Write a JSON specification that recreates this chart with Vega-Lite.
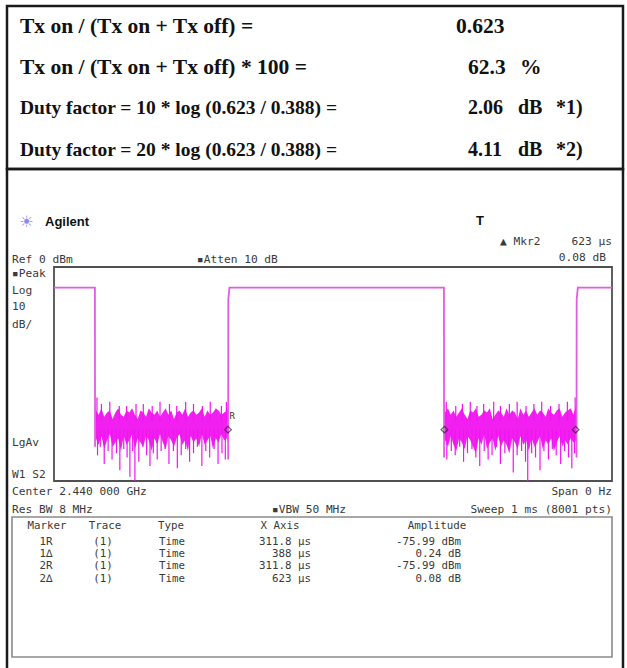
{
  "$schema": "https://vega.github.io/schema/vega-lite/v6.json",
  "width": 627,
  "height": 668,
  "autosize": {"type": "fit", "contains": "padding"},
  "padding": 0,
  "background": "white",
  "config": {"view": {"stroke": null}},
  "encoding": {
    "x": {"field": "t", "type": "quantitative", "scale": {"domain": [-0.09677, 1.02688], "nice": false, "zero": false}, "axis": null},
    "y": {"field": "db", "type": "quantitative", "scale": {"domain": [-187.38, 124.77], "nice": false, "zero": false}, "axis": null}
  },
  "layer": [
    {
      "data": {"values": [
        {"t": -0.08423, "t2": 1.01971, "db": 121.96, "db2": 45.79},
        {"t": -0.08423, "t2": 1.01971, "db": 45.79, "db2": -200}
      ]},
      "mark": {"type": "rect", "fill": null, "stroke": "#1a1a1a", "strokeWidth": 2.5, "clip": true},
      "encoding": {"x2": {"field": "t2"}, "y2": {"field": "db2"}}
    },
    {
      "data": {"values": [{"t": 0.1}, {"t": 0.2}, {"t": 0.3}, {"t": 0.4}, {"t": 0.5}, {"t": 0.6}, {"t": 0.7}, {"t": 0.8}, {"t": 0.9}]},
      "mark": {"type": "rule", "stroke": "#626262", "strokeWidth": 1.4},
      "encoding": {"y": {"datum": 0}, "y2": {"datum": -100}}
    },
    {
      "data": {"values": [{"db": -10}, {"db": -20}, {"db": -30}, {"db": -40}, {"db": -50}, {"db": -60}, {"db": -70}, {"db": -80}, {"db": -90}]},
      "mark": {"type": "rule", "stroke": "#626262", "strokeWidth": 1.4},
      "encoding": {"x": {"datum": 0}, "x2": {"datum": 1}}
    },
    {
      "data": {"values": [{"t": 0, "t2": 1, "db": 0, "db2": -100}]},
      "mark": {"type": "rect", "fill": null, "stroke": "#505050", "strokeWidth": 1.8},
      "encoding": {"x2": {"field": "t2"}, "y2": {"field": "db2"}}
    },
    {
      "data": {"values": [
        {"t": -0.07527, "t2": 1.0, "db": -116.82, "db2": -182.24}
      ]},
      "mark": {"type": "rect", "fill": null, "stroke": "#8a8a8a", "strokeWidth": 1.6},
      "encoding": {"x2": {"field": "t2"}, "y2": {"field": "db2"}}
    },
    {
      "data": {"values": [
        {"seg": 1, "t": 0.0738, "hi": -63, "lo": -82},
        {"seg": 1, "t": 0.075, "hi": -67, "lo": -80},
        {"seg": 1, "t": 0.080, "hi": -69, "lo": -83},
        {"seg": 1, "t": 0.085, "hi": -66, "lo": -79},
        {"seg": 1, "t": 0.090, "hi": -70, "lo": -85},
        {"seg": 1, "t": 0.095, "hi": -68, "lo": -81},
        {"seg": 1, "t": 0.100, "hi": -67, "lo": -78},
        {"seg": 1, "t": 0.105, "hi": -71, "lo": -84},
        {"seg": 1, "t": 0.110, "hi": -68, "lo": -82},
        {"seg": 1, "t": 0.115, "hi": -66, "lo": -80},
        {"seg": 1, "t": 0.120, "hi": -69, "lo": -86},
        {"seg": 1, "t": 0.125, "hi": -70, "lo": -79},
        {"seg": 1, "t": 0.130, "hi": -67, "lo": -83},
        {"seg": 1, "t": 0.135, "hi": -68, "lo": -81},
        {"seg": 1, "t": 0.140, "hi": -66, "lo": -78},
        {"seg": 1, "t": 0.145, "hi": -69, "lo": -85},
        {"seg": 1, "t": 0.150, "hi": -71, "lo": -80},
        {"seg": 1, "t": 0.155, "hi": -67, "lo": -82},
        {"seg": 1, "t": 0.160, "hi": -68, "lo": -84},
        {"seg": 1, "t": 0.165, "hi": -70, "lo": -79},
        {"seg": 1, "t": 0.170, "hi": -66, "lo": -81},
        {"seg": 1, "t": 0.175, "hi": -68, "lo": -86},
        {"seg": 1, "t": 0.180, "hi": -69, "lo": -80},
        {"seg": 1, "t": 0.185, "hi": -67, "lo": -83},
        {"seg": 1, "t": 0.190, "hi": -70, "lo": -78},
        {"seg": 1, "t": 0.195, "hi": -68, "lo": -82},
        {"seg": 1, "t": 0.200, "hi": -66, "lo": -85},
        {"seg": 1, "t": 0.205, "hi": -69, "lo": -79},
        {"seg": 1, "t": 0.210, "hi": -67, "lo": -81},
        {"seg": 1, "t": 0.215, "hi": -71, "lo": -84},
        {"seg": 1, "t": 0.220, "hi": -68, "lo": -80},
        {"seg": 1, "t": 0.225, "hi": -67, "lo": -78},
        {"seg": 1, "t": 0.230, "hi": -69, "lo": -83},
        {"seg": 1, "t": 0.235, "hi": -66, "lo": -81},
        {"seg": 1, "t": 0.240, "hi": -70, "lo": -86},
        {"seg": 1, "t": 0.245, "hi": -68, "lo": -79},
        {"seg": 1, "t": 0.250, "hi": -67, "lo": -82},
        {"seg": 1, "t": 0.255, "hi": -69, "lo": -80},
        {"seg": 1, "t": 0.260, "hi": -68, "lo": -84},
        {"seg": 1, "t": 0.265, "hi": -66, "lo": -78},
        {"seg": 1, "t": 0.270, "hi": -70, "lo": -83},
        {"seg": 1, "t": 0.275, "hi": -67, "lo": -81},
        {"seg": 1, "t": 0.280, "hi": -69, "lo": -79},
        {"seg": 1, "t": 0.285, "hi": -68, "lo": -85},
        {"seg": 1, "t": 0.290, "hi": -66, "lo": -80},
        {"seg": 1, "t": 0.295, "hi": -67, "lo": -82},
        {"seg": 1, "t": 0.300, "hi": -69, "lo": -78},
        {"seg": 1, "t": 0.305, "hi": -68, "lo": -81},
        {"seg": 1, "t": 0.310, "hi": -67, "lo": -80},
        {"seg": 1, "t": 0.3118, "hi": -65, "lo": -82},
        {"seg": 2, "t": 0.6994, "hi": -64, "lo": -83},
        {"seg": 2, "t": 0.701, "hi": -68, "lo": -81},
        {"seg": 2, "t": 0.706, "hi": -66, "lo": -84},
        {"seg": 2, "t": 0.711, "hi": -69, "lo": -79},
        {"seg": 2, "t": 0.716, "hi": -67, "lo": -83},
        {"seg": 2, "t": 0.721, "hi": -70, "lo": -86},
        {"seg": 2, "t": 0.726, "hi": -68, "lo": -80},
        {"seg": 2, "t": 0.731, "hi": -66, "lo": -82},
        {"seg": 2, "t": 0.736, "hi": -69, "lo": -85},
        {"seg": 2, "t": 0.741, "hi": -71, "lo": -79},
        {"seg": 2, "t": 0.746, "hi": -67, "lo": -81},
        {"seg": 2, "t": 0.751, "hi": -68, "lo": -84},
        {"seg": 2, "t": 0.756, "hi": -66, "lo": -87},
        {"seg": 2, "t": 0.761, "hi": -70, "lo": -80},
        {"seg": 2, "t": 0.766, "hi": -69, "lo": -83},
        {"seg": 2, "t": 0.771, "hi": -67, "lo": -78},
        {"seg": 2, "t": 0.776, "hi": -68, "lo": -85},
        {"seg": 2, "t": 0.781, "hi": -66, "lo": -82},
        {"seg": 2, "t": 0.786, "hi": -71, "lo": -80},
        {"seg": 2, "t": 0.791, "hi": -69, "lo": -86},
        {"seg": 2, "t": 0.796, "hi": -67, "lo": -79},
        {"seg": 2, "t": 0.801, "hi": -68, "lo": -84},
        {"seg": 2, "t": 0.806, "hi": -70, "lo": -81},
        {"seg": 2, "t": 0.811, "hi": -66, "lo": -83},
        {"seg": 2, "t": 0.816, "hi": -69, "lo": -87},
        {"seg": 2, "t": 0.821, "hi": -67, "lo": -80},
        {"seg": 2, "t": 0.826, "hi": -68, "lo": -82},
        {"seg": 2, "t": 0.831, "hi": -71, "lo": -85},
        {"seg": 2, "t": 0.836, "hi": -66, "lo": -79},
        {"seg": 2, "t": 0.841, "hi": -69, "lo": -83},
        {"seg": 2, "t": 0.846, "hi": -67, "lo": -81},
        {"seg": 2, "t": 0.851, "hi": -70, "lo": -86},
        {"seg": 2, "t": 0.856, "hi": -68, "lo": -80},
        {"seg": 2, "t": 0.861, "hi": -66, "lo": -84},
        {"seg": 2, "t": 0.866, "hi": -69, "lo": -82},
        {"seg": 2, "t": 0.871, "hi": -67, "lo": -79},
        {"seg": 2, "t": 0.876, "hi": -68, "lo": -85},
        {"seg": 2, "t": 0.881, "hi": -70, "lo": -81},
        {"seg": 2, "t": 0.886, "hi": -66, "lo": -83},
        {"seg": 2, "t": 0.891, "hi": -68, "lo": -80},
        {"seg": 2, "t": 0.896, "hi": -69, "lo": -86},
        {"seg": 2, "t": 0.901, "hi": -67, "lo": -82},
        {"seg": 2, "t": 0.906, "hi": -66, "lo": -79},
        {"seg": 2, "t": 0.911, "hi": -70, "lo": -84},
        {"seg": 2, "t": 0.916, "hi": -68, "lo": -81},
        {"seg": 2, "t": 0.921, "hi": -67, "lo": -83},
        {"seg": 2, "t": 0.926, "hi": -66, "lo": -80},
        {"seg": 2, "t": 0.931, "hi": -69, "lo": -82},
        {"seg": 2, "t": 0.9362, "hi": -64, "lo": -81}
      ]},
      "mark": {"type": "area", "color": "#f014f0", "opacity": 0.95},
      "encoding": {"y": {"field": "hi"}, "y2": {"field": "lo"}, "detail": {"field": "seg"}}
    },
    {
      "data": {"values": [
        {"t": 0.078, "top": -76, "bottom": -88}, {"t": 0.083, "top": -76, "bottom": -84},
        {"t": 0.090, "top": -76, "bottom": -92}, {"t": 0.097, "top": -76, "bottom": -86},
        {"t": 0.104, "top": -76, "bottom": -90}, {"t": 0.112, "top": -76, "bottom": -87},
        {"t": 0.118, "top": -76, "bottom": -95}, {"t": 0.125, "top": -76, "bottom": -85},
        {"t": 0.131, "top": -76, "bottom": -89}, {"t": 0.136, "top": -76, "bottom": -98},
        {"t": 0.141, "top": -76, "bottom": -86}, {"t": 0.145, "top": -76, "bottom": -100},
        {"t": 0.152, "top": -76, "bottom": -91}, {"t": 0.159, "top": -76, "bottom": -84},
        {"t": 0.166, "top": -76, "bottom": -88}, {"t": 0.172, "top": -76, "bottom": -93},
        {"t": 0.178, "top": -76, "bottom": -87}, {"t": 0.185, "top": -76, "bottom": -90},
        {"t": 0.192, "top": -76, "bottom": -86}, {"t": 0.199, "top": -76, "bottom": -85},
        {"t": 0.206, "top": -76, "bottom": -92}, {"t": 0.214, "top": -76, "bottom": -86},
        {"t": 0.221, "top": -76, "bottom": -94}, {"t": 0.228, "top": -76, "bottom": -88},
        {"t": 0.236, "top": -76, "bottom": -85}, {"t": 0.243, "top": -76, "bottom": -91},
        {"t": 0.250, "top": -76, "bottom": -87}, {"t": 0.257, "top": -76, "bottom": -84},
        {"t": 0.265, "top": -76, "bottom": -93}, {"t": 0.272, "top": -76, "bottom": -86},
        {"t": 0.279, "top": -76, "bottom": -89}, {"t": 0.287, "top": -76, "bottom": -85},
        {"t": 0.294, "top": -76, "bottom": -92}, {"t": 0.301, "top": -76, "bottom": -87},
        {"t": 0.307, "top": -76, "bottom": -90},
        {"t": 0.077, "top": -61, "bottom": -72}, {"t": 0.085, "top": -64, "bottom": -72},
        {"t": 0.100, "top": -63, "bottom": -72}, {"t": 0.117, "top": -65, "bottom": -72},
        {"t": 0.130, "top": -65, "bottom": -72}, {"t": 0.147, "top": -64, "bottom": -72},
        {"t": 0.160, "top": -64, "bottom": -72}, {"t": 0.176, "top": -65, "bottom": -72},
        {"t": 0.190, "top": -63, "bottom": -72}, {"t": 0.207, "top": -64, "bottom": -72},
        {"t": 0.220, "top": -65, "bottom": -72}, {"t": 0.236, "top": -63, "bottom": -72},
        {"t": 0.250, "top": -64, "bottom": -72}, {"t": 0.266, "top": -65, "bottom": -72},
        {"t": 0.280, "top": -63, "bottom": -72}, {"t": 0.300, "top": -65, "bottom": -72},
        {"t": 0.309, "top": -63, "bottom": -72},
        {"t": 0.704, "top": -76, "bottom": -90}, {"t": 0.712, "top": -76, "bottom": -86},
        {"t": 0.719, "top": -76, "bottom": -88}, {"t": 0.727, "top": -76, "bottom": -84},
        {"t": 0.734, "top": -76, "bottom": -91}, {"t": 0.741, "top": -76, "bottom": -87},
        {"t": 0.749, "top": -76, "bottom": -85}, {"t": 0.756, "top": -76, "bottom": -89},
        {"t": 0.763, "top": -76, "bottom": -93}, {"t": 0.771, "top": -76, "bottom": -86},
        {"t": 0.778, "top": -76, "bottom": -90}, {"t": 0.785, "top": -76, "bottom": -88},
        {"t": 0.793, "top": -76, "bottom": -84}, {"t": 0.800, "top": -76, "bottom": -92},
        {"t": 0.808, "top": -76, "bottom": -87}, {"t": 0.815, "top": -76, "bottom": -85},
        {"t": 0.823, "top": -76, "bottom": -96}, {"t": 0.830, "top": -76, "bottom": -88},
        {"t": 0.838, "top": -76, "bottom": -86}, {"t": 0.845, "top": -76, "bottom": -91},
        {"t": 0.849, "top": -76, "bottom": -100}, {"t": 0.856, "top": -76, "bottom": -87},
        {"t": 0.863, "top": -76, "bottom": -89}, {"t": 0.871, "top": -76, "bottom": -95},
        {"t": 0.878, "top": -76, "bottom": -86}, {"t": 0.886, "top": -76, "bottom": -90},
        {"t": 0.893, "top": -76, "bottom": -85}, {"t": 0.900, "top": -76, "bottom": -88},
        {"t": 0.908, "top": -76, "bottom": -92}, {"t": 0.915, "top": -76, "bottom": -86},
        {"t": 0.922, "top": -76, "bottom": -89}, {"t": 0.928, "top": -76, "bottom": -94},
        {"t": 0.933, "top": -76, "bottom": -87},
        {"t": 0.703, "top": -63, "bottom": -72}, {"t": 0.720, "top": -65, "bottom": -72},
        {"t": 0.732, "top": -64, "bottom": -72}, {"t": 0.746, "top": -63, "bottom": -72},
        {"t": 0.758, "top": -65, "bottom": -72}, {"t": 0.770, "top": -64, "bottom": -72},
        {"t": 0.788, "top": -63, "bottom": -72}, {"t": 0.800, "top": -65, "bottom": -72},
        {"t": 0.816, "top": -64, "bottom": -72}, {"t": 0.830, "top": -63, "bottom": -72},
        {"t": 0.846, "top": -65, "bottom": -72}, {"t": 0.860, "top": -64, "bottom": -72},
        {"t": 0.874, "top": -63, "bottom": -72}, {"t": 0.890, "top": -65, "bottom": -72},
        {"t": 0.905, "top": -64, "bottom": -72}, {"t": 0.920, "top": -63, "bottom": -72},
        {"t": 0.934, "top": -61, "bottom": -72}
      ]},
      "mark": {"type": "rule", "stroke": "#f014f0", "strokeWidth": 1.2},
      "encoding": {"y": {"field": "top"}, "y2": {"field": "bottom"}}
    },
    {
      "data": {"values": [
        {"seg": 1, "o": 1, "t": 0, "db": -9.6},
        {"seg": 1, "o": 2, "t": 0.0733, "db": -9.6},
        {"seg": 1, "o": 3, "t": 0.0736, "db": -84},
        {"seg": 2, "o": 1, "t": 0.3121, "db": -90},
        {"seg": 2, "o": 2, "t": 0.3124, "db": -15},
        {"seg": 2, "o": 3, "t": 0.3145, "db": -9.6},
        {"seg": 2, "o": 4, "t": 0.6988, "db": -9.6},
        {"seg": 2, "o": 5, "t": 0.6991, "db": -89},
        {"seg": 3, "o": 1, "t": 0.9364, "db": -89},
        {"seg": 3, "o": 2, "t": 0.9367, "db": -15},
        {"seg": 3, "o": 3, "t": 0.9388, "db": -9.6},
        {"seg": 3, "o": 4, "t": 1.0, "db": -9.6}
      ]},
      "mark": {"type": "line", "stroke": "#e35be3", "strokeWidth": 1.8},
      "encoding": {"detail": {"field": "seg"}, "order": {"field": "o"}}
    },
    {
      "data": {"values": [
        {"t": 0.3118, "db": -75.99},
        {"t": 0.6998, "db": -75.99},
        {"t": 0.9348, "db": -75.99}
      ]},
      "mark": {"type": "point", "shape": "diamond", "filled": false, "stroke": "#222222", "strokeWidth": 1.2, "size": 45}
    },
    {
      "data": {"values": [{"t": 0.3195, "db": -69.5, "text": "R"}]},
      "mark": {"type": "text", "font": "DejaVu Sans Mono", "fontSize": 9, "color": "#333333", "align": "center", "baseline": "middle"},
      "encoding": {"text": {"field": "text"}}
    },
    {
      "data": {"values": [
        {"t": -0.06093, "db": 109.35, "text": "Tx on / (Tx on + Tx off) ="},
        {"t": -0.06093, "db": 90.19, "text": "Tx on / (Tx on + Tx off) * 100 ="},
        {"t": 0.72043, "db": 109.35, "text": "0.623"},
        {"t": 0.74194, "db": 90.19, "text": "62.3"},
        {"t": 0.83513, "db": 90.19, "text": "%"}
      ]},
      "mark": {"type": "text", "font": "Liberation Serif", "fontWeight": "bold", "fontSize": 21.5, "color": "#111111", "align": "left", "baseline": "alphabetic"},
      "encoding": {"text": {"field": "text"}}
    },
    {
      "data": {"values": [
        {"t": -0.06093, "db": 71.5, "text": "Duty factor = 10 * log (0.623 / 0.388) ="},
        {"t": -0.06093, "db": 51.87, "text": "Duty factor = 20 * log (0.623 / 0.388) ="}
      ]},
      "mark": {"type": "text", "font": "Liberation Serif", "fontWeight": "bold", "fontSize": 19.5, "color": "#111111", "align": "left", "baseline": "alphabetic"},
      "encoding": {"text": {"field": "text"}}
    },
    {
      "data": {"values": [
        {"t": 0.74194, "db": 71.5, "text": "2.06"},
        {"t": 0.83154, "db": 71.5, "text": "dB"},
        {"t": 0.89964, "db": 71.5, "text": "*1)"},
        {"t": 0.74194, "db": 51.87, "text": "4.11"},
        {"t": 0.83154, "db": 51.87, "text": "dB"},
        {"t": 0.89964, "db": 51.87, "text": "*2)"}
      ]},
      "mark": {"type": "text", "font": "Liberation Serif", "fontWeight": "bold", "fontSize": 20, "color": "#111111", "align": "left", "baseline": "alphabetic"},
      "encoding": {"text": {"field": "text"}}
    },
    {
      "data": {"values": [{"t": -0.04928, "db": 21.26, "text": "☀"}]},
      "mark": {"type": "text", "font": "DejaVu Sans", "fontSize": 16, "color": "#8a8af0", "align": "center", "baseline": "middle"},
      "encoding": {"text": {"field": "text"}}
    },
    {
      "data": {"values": [
        {"t": -0.01613, "db": 19.16, "text": "Agilent"},
        {"t": 0.75627, "db": 19.63, "text": "T"}
      ]},
      "mark": {"type": "text", "font": "Liberation Sans", "fontWeight": "bold", "fontSize": 13, "color": "#111111", "align": "left", "baseline": "alphabetic"},
      "encoding": {"text": {"field": "text"}}
    },
    {
      "data": {"values": [
        {"t": 0.79928, "db": 10.28, "text": "▲ Mkr2"},
        {"t": -0.07527, "db": 1.87, "text": "Ref 0 dBm"},
        {"t": 0.25627, "db": 1.87, "text": "▪Atten 10 dB"},
        {"t": -0.07527, "db": -4.67, "text": "▪Peak"},
        {"t": -0.07527, "db": -12.62, "text": "Log"},
        {"t": -0.07527, "db": -20.09, "text": "10"},
        {"t": -0.07527, "db": -28.5, "text": "dB/"},
        {"t": -0.07527, "db": -83.64, "text": "LgAv"},
        {"t": -0.07527, "db": -98.6, "text": "W1  S2"},
        {"t": -0.07527, "db": -106.54, "text": "Center 2.440 000 GHz"},
        {"t": -0.07527, "db": -114.95, "text": "Res BW 8 MHz"},
        {"t": 0.39068, "db": -114.95, "text": "▪VBW 50 MHz"}
      ]},
      "mark": {"type": "text", "font": "DejaVu Sans Mono", "fontSize": 11.2, "color": "#3a3a3a", "align": "left", "baseline": "alphabetic"},
      "encoding": {"text": {"field": "text"}}
    },
    {
      "data": {"values": [
        {"t": 1.0, "db": 10.28, "text": "623 μs"},
        {"t": 0.98925, "db": 2.8, "text": "0.08 dB"},
        {"t": 1.0, "db": -106.54, "text": "Span 0 Hz"},
        {"t": 1.0, "db": -114.95, "text": "Sweep 1 ms (8001 pts)"}
      ]},
      "mark": {"type": "text", "font": "DejaVu Sans Mono", "fontSize": 11.2, "color": "#3a3a3a", "align": "right", "baseline": "alphabetic"},
      "encoding": {"text": {"field": "text"}}
    },
    {
      "data": {"values": [
        {"t": -0.01254, "db": -122.43, "text": "Marker"},
        {"t": 0.0914, "db": -122.43, "text": "Trace"},
        {"t": 0.20968, "db": -122.43, "text": "Type"},
        {"t": 0.40502, "db": -122.43, "text": "X Axis"},
        {"t": 0.68638, "db": -122.43, "text": "Amplitude"},
        {"t": -0.01434, "db": -129.91, "text": "1R"},
        {"t": -0.01434, "db": -135.51, "text": "1∆"},
        {"t": -0.01434, "db": -141.12, "text": "2R"},
        {"t": -0.01434, "db": -147.2, "text": "2∆"},
        {"t": 0.08781, "db": -129.91, "text": "(1)"},
        {"t": 0.08781, "db": -135.51, "text": "(1)"},
        {"t": 0.08781, "db": -141.12, "text": "(1)"},
        {"t": 0.08781, "db": -147.2, "text": "(1)"},
        {"t": 0.21147, "db": -129.91, "text": "Time"},
        {"t": 0.21147, "db": -135.51, "text": "Time"},
        {"t": 0.21147, "db": -141.12, "text": "Time"},
        {"t": 0.21147, "db": -147.2, "text": "Time"}
      ]},
      "mark": {"type": "text", "font": "DejaVu Sans Mono", "fontSize": 10.8, "color": "#3a3a3a", "align": "center", "baseline": "alphabetic"},
      "encoding": {"text": {"field": "text"}}
    },
    {
      "data": {"values": [
        {"t": 0.46057, "db": -129.91, "text": "311.8 μs"},
        {"t": 0.46057, "db": -135.51, "text": "388 μs"},
        {"t": 0.46057, "db": -141.12, "text": "311.8 μs"},
        {"t": 0.46057, "db": -147.2, "text": "623 μs"},
        {"t": 0.72939, "db": -129.91, "text": "-75.99 dBm"},
        {"t": 0.72939, "db": -135.51, "text": "0.24 dB"},
        {"t": 0.72939, "db": -141.12, "text": "-75.99 dBm"},
        {"t": 0.72939, "db": -147.2, "text": "0.08 dB"}
      ]},
      "mark": {"type": "text", "font": "DejaVu Sans Mono", "fontSize": 10.8, "color": "#3a3a3a", "align": "right", "baseline": "alphabetic"},
      "encoding": {"text": {"field": "text"}}
    }
  ]
}
